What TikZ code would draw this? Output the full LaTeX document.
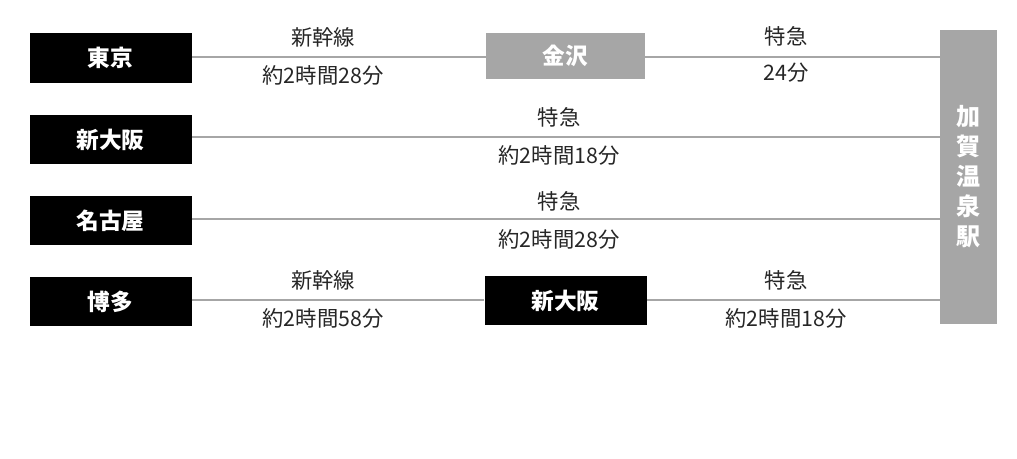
\documentclass[tikz,border=0pt]{standalone}
\usepackage{fontspec}
\setmainfont{Noto Sans CJK JP}
\newfontfamily\jpbold{Noto Sans CJK JP}[BoldFont={* Bold}]
\definecolor{gr}{HTML}{A6A6A6}
\begin{document}
\begin{tikzpicture}[x=0.75pt,y=-0.75pt,
  stn/.style={fill=black,text=white,font=\fontsize{17}{20}\selectfont\bfseries,inner sep=0,minimum width=121.5pt,minimum height=37pt},
  gstn/.style={stn,fill=gr},
  ln/.style={draw=gr,line width=2.2pt},
  lab/.style={font=\fontsize{16}{19}\selectfont,text=black!85}]
\useasboundingbox (0,0) rectangle (1017,458);
\fill[white] (0,0) rectangle (1017,458);
\node[gstn,minimum width=43pt,minimum height=220.5pt,align=center,font=\fontsize{18}{22.5}\selectfont\bfseries] (kaga) at (968.5,177) {加\\賀\\温\\泉\\駅};
\node[stn] (tokyo) at (110.5,58) {東京};
\node[gstn,minimum height=34.5pt,minimum width=119pt] (kana) at (565.5,56) {金沢};
\node[stn] (shin) at (110.5,139.5) {新大阪};
\node[stn] (nago) at (110.5,220.5) {名古屋};
\node[stn] (haka) at (110.5,301.5) {博多};
\node[stn] (shin2) at (565.5,300.5) {新大阪};
\draw[ln] (tokyo.east |- 0,57) -- (kana.west |- 0,57);
\draw[ln] (kana.east |- 0,57) -- (kaga.west |- 0,57);
\draw[ln] (shin.east |- 0,137) -- (kaga.west |- 0,137);
\draw[ln] (nago.east |- 0,219) -- (kaga.west |- 0,219);
\draw[ln] (haka.east |- 0,300) -- (shin2.west |- 0,300);
\draw[ln] (shin2.east |- 0,300) -- (kaga.west |- 0,300);
\node[lab] (a1) at (323,37) {新幹線};
\node[lab] (b1) at (323,75) {約2時間28分};
\node[lab] (a2) at (786,36) {特急};
\node[lab] (b2) at (786,73) {24分};
\node[lab] (a3) at (559,117) {特急};
\node[lab] (b3) at (559,155) {約2時間18分};
\node[lab] (a4) at (559,201) {特急};
\node[lab] (b4) at (559,239) {約2時間28分};
\node[lab] (a5) at (323,280) {新幹線};
\node[lab] (b5) at (323,318) {約2時間58分};
\node[lab] (a6) at (786,280) {特急};
\node[lab] (b6) at (786,318) {約2時間18分};
\end{tikzpicture}
\end{document}
